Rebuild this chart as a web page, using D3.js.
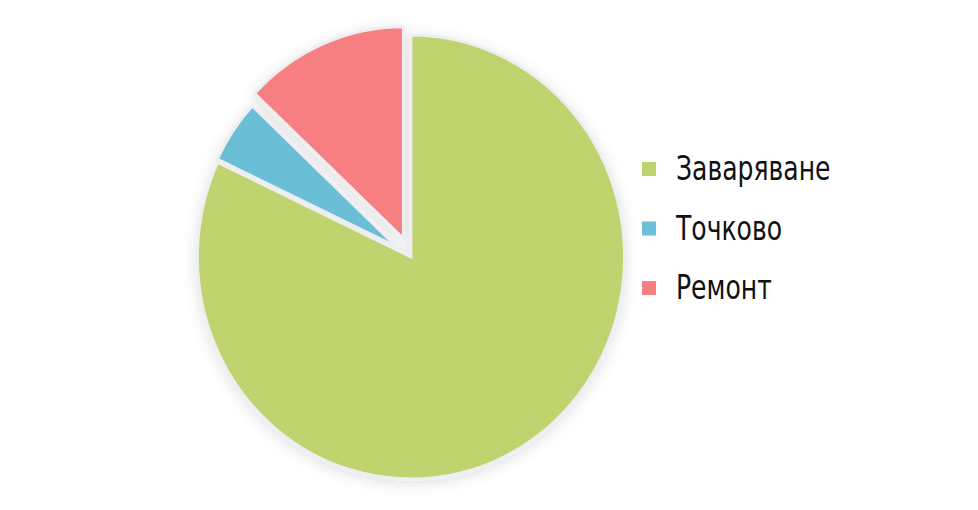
<!DOCTYPE html>
<html><head><meta charset="utf-8">
<script src="https://cdn.jsdelivr.net/npm/d3@7"></script>
<style>body{margin:0;background:#fff;}</style>
</head><body>
<svg id="c" width="978" height="510"></svg>
<script>
const categories = ["Заваряване", "Точково", "Ремонт"];
const values = [82, 5, 13];
const colors = ["#bfd46e", "#6bbfd6", "#f77f82"];

const svg = d3.select("#c");
const defs = svg.append("defs");
const f = defs.append("filter").attr("id","sh").attr("x","-20%").attr("y","-20%").attr("width","140%").attr("height","140%");
f.append("feDropShadow").attr("dx",0).attr("dy",3).attr("stdDeviation",7).attr("flood-color","#000").attr("flood-opacity",0.12);

const cx = 411, cy = 257;
const radii = [222, 206, 212];
const explode = [0, 18, 20];

const pie = d3.pie().sort(null).value(d => d)(values);
const g = svg.append("g").attr("transform", `translate(${cx},${cy}) scale(0.962,1)`).attr("filter","url(#sh)");
g.selectAll("path").data(pie).join("path")
  .attr("d", (d,i) => d3.arc().innerRadius(0).outerRadius(radii[i])(d))
  .attr("transform", (d,i) => {
    const a = (d.startAngle + d.endAngle) / 2;
    return `translate(${Math.sin(a)*explode[i]},${-Math.cos(a)*explode[i]})`;
  })
  .attr("fill", (d,i) => colors[i])
  .attr("stroke", "#eeeef2")
  .attr("stroke-width", 3)
  .attr("stroke-linejoin", "miter");

const leg = svg.append("g");
const ys = d3.scalePoint().domain(categories).range([169, 288]);
const item = leg.selectAll("g").data(categories).join("g")
  .attr("transform", d => `translate(642,${ys(d)})`);
item.append("rect").attr("x",0).attr("y",-7).attr("width",14).attr("height",14)
  .attr("fill", (d,i) => colors[i]);
item.append("text").attr("transform","translate(34,11) scale(0.82,1)")
  .attr("font-family","'DejaVu Sans Condensed','DejaVu Sans',sans-serif")
  .attr("font-stretch","condensed")
  .attr("font-size",34).attr("fill","#111")
  .text(d => d);
</script>
</body></html>
